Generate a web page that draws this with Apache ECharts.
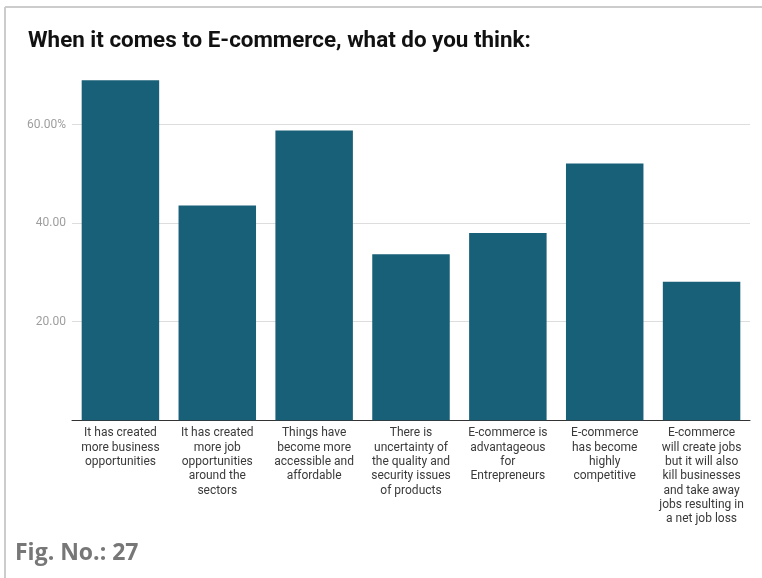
<!DOCTYPE html>
<html>
<head>
<meta charset="utf-8">
<script src="https://cdn.jsdelivr.net/npm/echarts@6/dist/echarts.min.js"></script>
<style>
  html, body { margin: 0; padding: 0; background: #fff; }
  #chart { width: 762px; height: 578px; }
</style>
</head>
<body>
<div id="chart"></div>
<script>
// Survey answers (share of respondents, %)
const categories = [
  'It has created\nmore business\nopportunities',
  'It has created\nmore job\nopportunities\naround the\nsectors',
  'Things have\nbecome more\naccessible and\naffordable',
  'There is\nuncertainty of\nthe quality and\nsecurity issues\nof products',
  'E-commerce is\nadvantageous\nfor\nEntrepreneurs',
  'E-commerce\nhas become\nhighly\ncompetitive',
  'E-commerce\nwill create jobs\nbut it will also\nkill businesses\nand take away\njobs resulting in\na net job loss'
];
const shares = [69.0, 43.6, 58.8, 33.7, 38.0, 52.1, 28.1];
const titleText = 'When it comes to E-commerce, what do you think:';
const figureText = 'Fig. No.: 27';

const chart = echarts.init(document.getElementById('chart'), null, { renderer: 'canvas' });

chart.setOption({
  animation: false,
  backgroundColor: '#ffffff',
  title: {
    text: titleText,
    left: 23,
    top: 25,
    textStyle: {
      fontFamily: 'Roboto',
      fontWeight: 'bold',
      fontSize: 22.4,
      color: '#111111'
    }
  },
  grid: {
    left: 72,
    right: 12,
    top: 75.4,
    bottom: 157.8,
    containLabel: false
  },
  xAxis: {
    type: 'category',
    data: categories,
    axisLine: { show: true, lineStyle: { color: '#333333', width: 1 } },
    axisTick: { show: false },
    axisLabel: {
      interval: 0,
      margin: 6,
      fontFamily: 'Roboto',
      fontSize: 12,
      lineHeight: 14.3,
      color: '#3a3a3a',
      align: 'center'
    }
  },
  yAxis: {
    type: 'value',
    min: 0,
    max: 70,
    interval: 20,
    axisLine: { show: false },
    axisTick: { show: false },
    axisLabel: {
      showMinLabel: false,
      showMaxLabel: false,
      margin: 6,
      fontFamily: 'Roboto',
      fontSize: 12,
      color: '#9e9e9e',
      formatter: function (v) {
        return v === 60 ? v.toFixed(2) + '%' : v.toFixed(2);
      }
    },
    splitLine: {
      show: true,
      showMinLine: false,
      showMaxLine: false,
      lineStyle: { color: '#dddddd', width: 1 }
    }
  },
  series: [{
    type: 'bar',
    data: shares,
    barCategoryGap: '20%',
    itemStyle: { color: '#185f78' }
  }],
  graphic: [
    {
      type: 'line',
      shape: { x1: 5, y1: 7, x2: 762, y2: 7 },
      style: { stroke: '#cccccc', lineWidth: 2 }
    },
    {
      type: 'line',
      shape: { x1: 5, y1: 7, x2: 5, y2: 578 },
      style: { stroke: '#cccccc', lineWidth: 2 }
    },
    {
      type: 'text',
      left: 15,
      top: 542,
      style: {
        text: figureText,
        fontFamily: 'Open Sans',
        fontWeight: 'bold',
        fontSize: 23,
        fill: '#777777'
      }
    }
  ]
});
</script>
</body>
</html>
